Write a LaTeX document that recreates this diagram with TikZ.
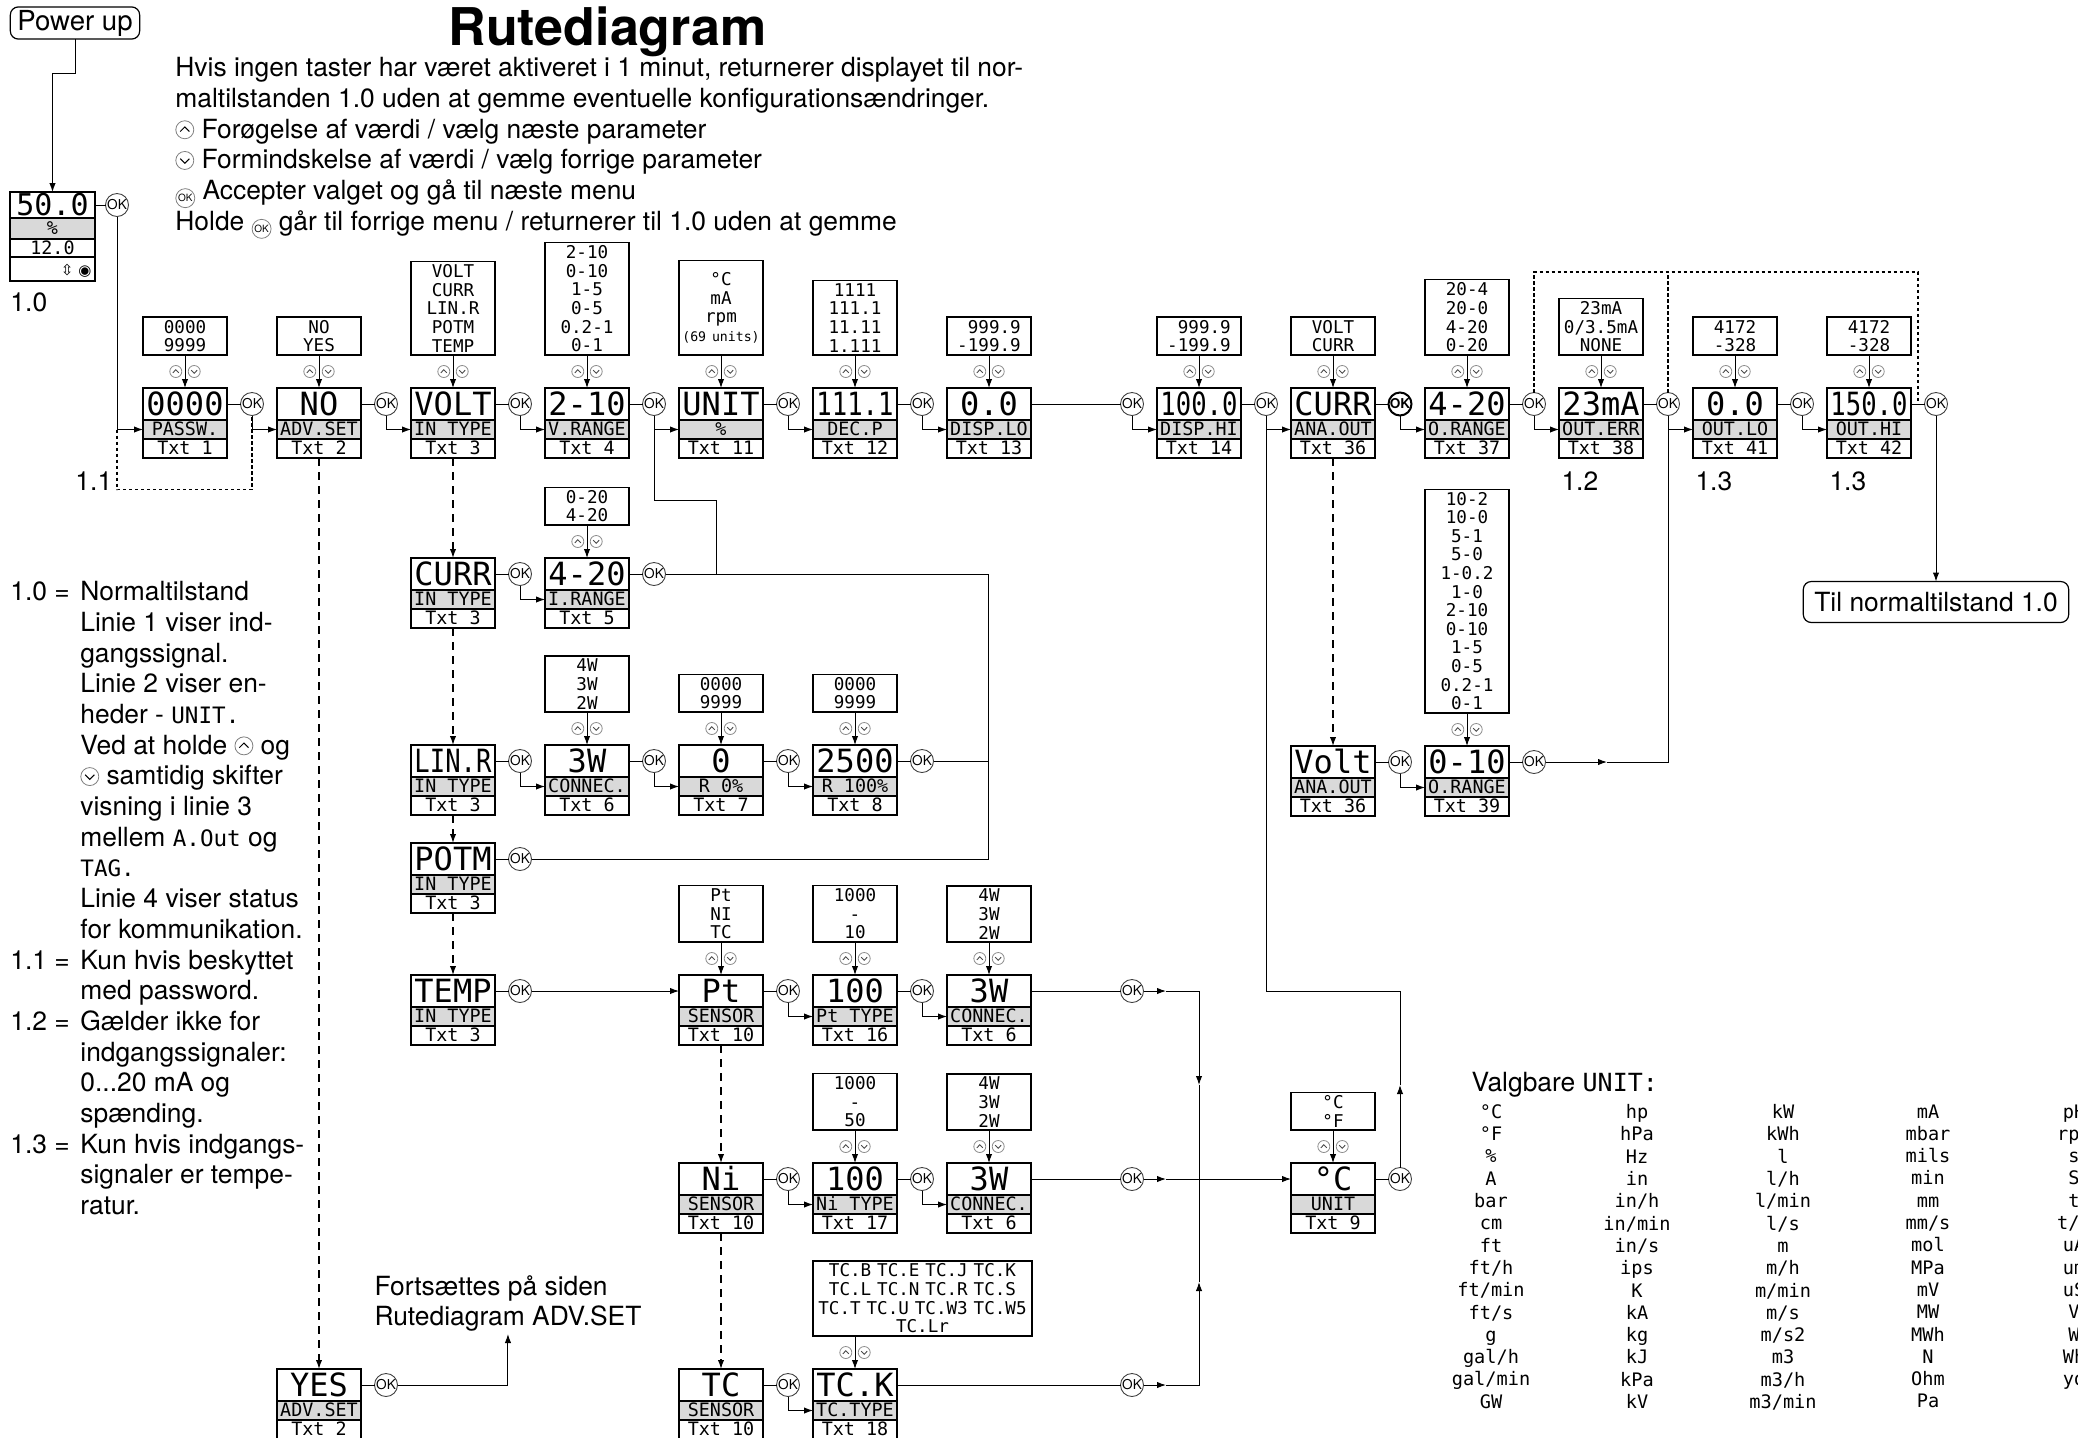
\documentclass[tikz,border=0pt]{standalone}
\usepackage{fontspec}
\setmainfont{TeX Gyre Heros}
\newfontfamily\dmono{DejaVu Sans Mono}
\newfontfamily\djsans{DejaVu Sans}
\usepackage{graphicx}
\usetikzlibrary{positioning, arrows.meta, calc}

\newcommand{\txtfont}{\fontsize{13.2}{15.35}\selectfont}
\newcommand{\bigdm}{\dmono\fontsize{16}{17}\selectfont}
\newcommand{\smdm}{\dmono\fontsize{9.2}{10}\selectfont}
\newcommand{\valdm}{\dmono\fontsize{8.8}{9.3}\selectfont}
\newcommand{\notedm}{\dmono\fontsize{11.3}{15.35}\selectfont}
\newcommand{\narr}[1]{\scalebox{0.8}[1]{#1}}

% taster i teksten
\newcommand{\kup}{\tikz[baseline=-0.6ex]{\draw[gray, line width=0.4pt] (0,0) circle (4.5pt); \draw[line width=0.5pt] (-2.3pt,-0.9pt) -- (0,1.4pt) -- (2.3pt,-0.9pt);}}
\newcommand{\kdn}{\tikz[baseline=-0.6ex]{\draw[gray, line width=0.4pt] (0,0) circle (4.5pt); \draw[line width=0.5pt] (-2.3pt,0.9pt) -- (0,-1.4pt) -- (2.3pt,0.9pt);}}
\newcommand{\kok}{\tikz[baseline=-0.6ex]{\node[circle, draw=gray, line width=0.4pt, inner sep=0pt, minimum size=9.5pt, font=\fontsize{5}{4}\selectfont] {OK};}}

% display: navn, placering, visning, menu, tekstnr.
\newcommand{\dispbox}[5]{%
  \node[dtop, #2] (#1) {#3};
  \node[dlab, below=0pt of #1] (#1-l) {#4};
  \node[dtxt, below=0pt of #1-l] (#1-t) {#5};
  \draw[sepl] (#1-t.north west) -- (#1-t.north east);
}
% valgmuligheder over et display
\newcommand{\valbox}[3][]{%
  \node[vals, above=16.5pt of #2, #1] (#2-v) {#3};
  \draw[arr] (#2-v.south -| #2.north) -- (#2);
  \pic at ($(#2-v.south -| #2.north)!.5!(#2.north)$) {updn};
}

\begin{document}
\begin{tikzpicture}[
    x=0.5pt, y=-0.5pt,
    line width=0.5pt,
    dtop/.style = {draw, fill=white, line width=0.6pt, outer sep=0pt, minimum width=42pt, minimum height=16pt,
                   inner sep=0pt, text height=11.6pt, text depth=0pt, font=\bigdm},
    dlab/.style = {draw, fill=gray!30, line width=0.6pt, outer sep=0pt, minimum width=42pt, minimum height=9.5pt,
                   inner sep=0pt, text height=6.4pt, text depth=0.4pt, font=\smdm},
    dtxt/.style = {dlab, fill=white},
    sepl/.style = {line width=1.1pt},
    vals/.style = {draw, fill=white, line width=0.6pt, outer sep=0pt, align=center, text width=40pt,
                   inner xsep=1pt, inner ysep=1.5pt, font=\valdm},
    ok/.style   = {circle, draw=black!75, line width=0.45pt, fill=white, outer sep=0pt, minimum size=11.5pt,
                   inner sep=0pt, font=\fontsize{6.8}{6}\selectfont},
    okb/.style  = {ok, draw=black, line width=1pt, font=\fontsize{6.8}{6}\selectfont\bfseries},
    arr/.style  = {-{Latex[length=4.5pt, width=3.2pt]}},
    dsh/.style  = {dash pattern=on 4pt off 3pt, line width=0.65pt},
    dots/.style = {dash pattern=on 1.6pt off 1.4pt, line width=0.8pt},
    rbox/.style = {draw, rounded corners=4pt, line width=0.6pt, outer sep=0pt, font=\txtfont},
    lbl/.style  = {inner sep=0pt, font=\txtfont},
    ucol/.style = {align=center, inner sep=0pt, font=\dmono\fontsize{9.3}{11.15}\selectfont},
    updn/.pic   = {
      \draw[black!45, line width=0.4pt] (-4.6pt,0) circle (3pt) (4.6pt,0) circle (3pt);
      \draw[black!70, line width=0.45pt] (-6.1pt,-0.7pt) -- (-4.6pt,0.9pt) -- (-3.1pt,-0.7pt)
            (3.1pt,0.7pt) -- (4.6pt,-0.9pt) -- (6.1pt,0.7pt);
    }
]
\useasboundingbox (0,0) rectangle (2078,1437);
\clip (0,0) rectangle (2078,1437);

% Overskrift og forklaring
\node[anchor=base west, inner sep=0pt, font=\fontsize{26}{30}\selectfont\bfseries] (ttl) at (448,45) {Rutediagram};
\node[anchor=north west, align=left, inner sep=0pt, font=\txtfont] (hdr) at (175,57) {%
Hvis ingen taster har været aktiveret i 1 minut, returnerer displayet til nor-\\
maltilstanden 1.0 uden at gemme eventuelle konfigurationsændringer.\\
\kup\ Forøgelse af værdi / vælg næste parameter\\
\kdn\ Formindskelse af værdi / vælg forrige parameter\\
\kok\ Accepter valget og gå til næste menu\\
Holde \kok\ går til forrige menu / returnerer til 1.0 uden at gemme};

% Opstart og normaltilstand
\node[rbox, inner xsep=3.5pt, inner ysep=1.5pt, font=\fontsize{13.8}{15}\selectfont] (pwr) at (75,23) {Power up};
\node[dtop, anchor=north west, minimum width=42.5pt, minimum height=13pt, text height=10.8pt,
      font=\dmono\fontsize{15}{16}\selectfont] (norm) at (10,192) {50.0};
\node[dlab, minimum width=42.5pt, minimum height=10.5pt, below=0pt of norm] (norm-l) {\%};
\node[dtxt, minimum width=42.5pt, minimum height=9pt, below=0pt of norm-l] (norm-m) {12.0};
\node[dtxt, minimum width=42.5pt, minimum height=12pt, text width=39pt, align=right,
      font=\djsans\fontsize{7.5}{8}\selectfont, below=0pt of norm-m] (norm-s) {⇳ ◉};
\draw[sepl] (norm-m.north west) -- (norm-m.north east);
\node[ok, right=5.25pt of norm] (norm-ok) {OK};
\node[lbl, anchor=west] (l10) at (10,302) {1.0};

% Raekke 1
\dispbox{passw}{anchor=north west, at={(143,388)}}{0000}{PASSW.}{Txt 1}
\dispbox{adv}{right=25pt of passw}{NO}{ADV.SET}{Txt 2}
\dispbox{volt}{right=25pt of adv}{VOLT}{IN TYPE}{Txt 3}
\dispbox{vrange}{right=25pt of volt}{2-10}{V.RANGE}{Txt 4}
\dispbox{unit}{right=25pt of vrange}{UNIT}{\%}{Txt 11}
\dispbox{decp}{right=25pt of unit}{\narr{111.1}}{DEC.P}{Txt 12}
\dispbox{dlo}{right=25pt of decp}{0.0}{DISP.LO}{Txt 13}
\dispbox{dhi}{right=63pt of dlo}{\narr{100.0}}{DISP.HI}{Txt 14}
\dispbox{ana}{right=25pt of dhi}{CURR}{ANA.OUT}{Txt 36}
\dispbox{orng}{right=25pt of ana}{4-20}{O.RANGE}{Txt 37}
\dispbox{oerr}{right=25pt of orng}{23mA}{OUT.ERR}{Txt 38}
\dispbox{olo}{right=25pt of oerr}{0.0}{OUT.LO}{Txt 41}
\dispbox{ohi}{right=25pt of olo}{\narr{150.0}}{OUT.HI}{Txt 42}

% Indgangstyper
\dispbox{curr}{anchor=north west, at={(411,558)}}{CURR}{IN TYPE}{Txt 3}
\dispbox{irange}{right=25pt of curr}{4-20}{I.RANGE}{Txt 5}
\dispbox{linr}{anchor=north west, at={(411,745)}}{\narr{LIN.R}}{IN TYPE}{Txt 3}
\dispbox{conn}{right=25pt of linr}{3W}{CONNEC.}{Txt 6}
\dispbox{rzero}{right=25pt of conn}{0}{R 0\%}{Txt 7}
\dispbox{rfull}{right=25pt of rzero}{2500}{R 100\%}{Txt 8}
\dispbox{potm}{anchor=north west, at={(411,843)}}{POTM}{IN TYPE}{Txt 3}
\dispbox{temp}{anchor=north west, at={(411,975)}}{TEMP}{IN TYPE}{Txt 3}
\dispbox{pt}{anchor=north west, at={(679,975)}}{Pt}{SENSOR}{Txt 10}
\dispbox{pttype}{right=25pt of pt}{100}{Pt TYPE}{Txt 16}
\dispbox{conna}{right=25pt of pttype}{3W}{CONNEC.}{Txt 6}
\dispbox{ni}{anchor=north west, at={(679,1163)}}{Ni}{SENSOR}{Txt 10}
\dispbox{nitype}{right=25pt of ni}{100}{Ni TYPE}{Txt 17}
\dispbox{connb}{right=25pt of nitype}{3W}{CONNEC.}{Txt 6}
\dispbox{tc}{anchor=north west, at={(679,1369)}}{TC}{SENSOR}{Txt 10}
\dispbox{tctype}{right=25pt of tc}{TC.K}{TC.TYPE}{Txt 18}
\dispbox{yes}{anchor=north west, at={(277,1369)}}{YES}{ADV.SET}{Txt 2}

% Analog udgang
\dispbox{volto}{anchor=north west, at={(1291,746)}}{Volt}{ANA.OUT}{Txt 36}
\dispbox{orngb}{right=25pt of volto}{0-10}{O.RANGE}{Txt 39}
\dispbox{degc}{anchor=north west, at={(1291,1163)}}{°C}{UNIT}{Txt 9}

% OK-taster
\foreach \n in {passw, adv, volt, vrange, unit, decp, dhi, orng, oerr, olo, ohi,
                curr, irange, linr, conn, rzero, rfull, potm, temp, pt, pttype,
                ni, nitype, tc, yes, volto, orngb, degc}
  \node[ok, right=6.75pt of \n] (\n-ok) {OK};
\node[okb, right=6.75pt of ana] (ana-ok) {OK};
\node[ok, left=6.75pt of dhi] (hi-ok) {OK};
\node[ok] (conna-ok) at (hi-ok |- conna) {OK};
\node[ok] (connb-ok) at (hi-ok |- connb) {OK};
\node[ok] (tctype-ok) at (hi-ok |- tctype) {OK};

% Valgmuligheder
\valbox{passw}{0000\\9999}
\valbox{adv}{NO\\YES}
\valbox{volt}{VOLT\\CURR\\LIN.R\\POTM\\TEMP}
\valbox{vrange}{2-10\\0-10\\1-5\\0-5\\0.2-1\\0-1}
\valbox[inner ysep=6pt]{unit}{°C\\mA\\rpm\\{\fontsize{6.6}{9.3}\selectfont(69 units)}}
\valbox{decp}{1111\\111.1\\11.11\\1.111}
\valbox{dlo}{\phantom{-}999.9\\-199.9}
\valbox{dhi}{\phantom{-}999.9\\-199.9}
\valbox{ana}{VOLT\\CURR}
\valbox{orng}{20-4\\20-0\\4-20\\0-20}
\valbox{oerr}{23mA\\0/3.5mA\\NONE}
\valbox{olo}{4172\\-328}
\valbox{ohi}{4172\\-328}
\valbox{irange}{0-20\\4-20}
\valbox{conn}{4W\\3W\\2W}
\valbox{rzero}{0000\\9999}
\valbox{rfull}{0000\\9999}
\valbox{pt}{Pt\\NI\\TC}
\valbox{pttype}{1000\\-\\10}
\valbox{conna}{4W\\3W\\2W}
\valbox{nitype}{1000\\-\\50}
\valbox{connb}{4W\\3W\\2W}
\valbox[above=16.5pt of tctype.north west, anchor=south west, text width=108.5pt, inner xsep=0.5pt]{tctype}{TC.B TC.E TC.J TC.K\\TC.L TC.N TC.R TC.S\\TC.T TC.U TC.W3 TC.W5\\TC.Lr}
\valbox{orngb}{10-2\\10-0\\5-1\\5-0\\1-0.2\\1-0\\2-10\\0-10\\1-5\\0-5\\0.2-1\\0-1}
\valbox{degc}{°C\\°F}

% Forbindelser raekke 1
\draw[arr] (pwr.south) -- ++(0,34) -| (norm.north);
\draw (norm) -- (norm-ok);
\draw[arr] (norm-ok) |- (passw-l);
\draw[dots] (norm-ok |- passw-l) -- ++(0,60) -| (passw-ok);
\foreach \ma/\mb in {passw/adv, adv/volt, volt/vrange, vrange/unit, unit/decp, decp/dlo,
                     dhi/ana, ana/orng, orng/oerr, oerr/olo, olo/ohi,
                     curr/irange, linr/conn, conn/rzero, rzero/rfull,
                     pt/pttype, pttype/conna, ni/nitype, nitype/connb, tc/tctype, volto/orngb}
  {\draw (\ma) -- (\ma-ok); \draw[arr] (\ma-ok) |- (\mb-l);}
\draw (dlo) -- (hi-ok);
\draw[arr] (hi-ok) |- (dhi-l);

% Tilbage til normaltilstand
\draw (ohi) -- (ohi-ok);
\node[rbox, inner xsep=5.5pt, minimum height=20.5pt, below=83pt of ohi-ok] (back) {Til normaltilstand 1.0};
\draw[arr] (ohi-ok) -- (back);

% Spring over (1.2 og 1.3)
\coordinate (dtop) at (0,272);
\coordinate (dend) at ($(ohi.east)!.5!(ohi-ok.west)$);
\draw[dots] (orng-ok) -- (orng-ok |- dtop) -| (dend);
\draw[dots] (oerr-ok) -- (oerr-ok |- dtop);

% Lodrette valg
\foreach \ma/\mb in {volt/curr, curr/linr, linr/potm, potm/temp, adv/yes, pt/ni, ni/tc, ana/volto}
  \draw[dsh, arr] (\ma-t) -- (\mb);

% Tilbage til UNIT
\coordinate (ja) at (716,500);
\coordinate (jr) at (988,0);
\draw (vrange-ok) |- (ja) -- (ja |- irange-ok);
\draw (irange) -- (irange-ok);
\draw (irange-ok) -- (irange-ok -| jr) -- (jr |- potm-ok) -- (potm-ok);
\draw (rfull) -- (rfull-ok) -- (rfull-ok -| jr);
\draw (potm) -- (potm-ok);

% Temperatur
\coordinate (ma) at (1166,0);
\coordinate (jt) at (1199,0);
\draw (temp) -- (temp-ok);
\draw[arr] (temp-ok) -- (pt);
\draw (conna) -- (conna-ok);
\draw[arr] (conna-ok) -- (conna-ok -| ma);
\draw[arr] (conna-ok -| ma) -| ($(jt |- conna-ok)!.5!(jt |- connb-ok)$);
\draw ($(jt |- conna-ok)!.5!(jt |- connb-ok)$) -- (jt |- connb-ok);
\draw (tctype) -- (tctype-ok);
\draw[arr] (tctype-ok) -- (tctype-ok -| ma);
\draw[arr] (tctype-ok -| ma) -| ($(jt |- connb-ok)!.5!(jt |- tctype-ok)$);
\draw ($(jt |- connb-ok)!.5!(jt |- tctype-ok)$) -- (jt |- connb-ok);
\draw (connb) -- (connb-ok);
\draw[arr] (connb-ok) -- (connb-ok -| ma);
\draw[arr] (connb-ok -| ma) -- (degc);
\draw (degc) -- (degc-ok);
\draw[arr] (degc-ok) -- ($(degc-ok)!.5!(degc-ok |- temp)$);
\draw ($(degc-ok)!.5!(degc-ok |- temp)$) -- (degc-ok |- temp) -| (dhi-ok);

% Udgang volt
\coordinate (mb) at (1607,0);
\draw (orngb) -- (orngb-ok);
\draw[arr] (orngb-ok) -- (orngb-ok -| mb);
\draw (orngb-ok -| mb) -| (oerr-ok);

% ADV.SET
\node[anchor=south west, align=left, inner sep=1pt, font=\txtfont] (cont) at (372,1334) {Fortsættes på siden\\Rutediagram ADV.SET};
\draw (yes) -- (yes-ok);
\draw[arr] (yes-ok) -| (cont.south);

% Noter
\node[lbl, anchor=west] (l11) at (75,481) {1.1};
\node[lbl, anchor=west] (l12) at ($(oerr-t.south west)+(2,23)$) {1.2};
\node[lbl, anchor=west] (l13a) at ($(olo-t.south west)+(2,23)$) {1.3};
\node[lbl, anchor=west] (l13b) at ($(ohi-t.south west)+(2,23)$) {1.3};
\node[anchor=north west, align=left, inner sep=0pt, font=\txtfont] (notes) at (10,581) {%
\makebox[35pt][l]{1.0 =}Normaltilstand\\
\hspace*{35pt}Linie 1 viser ind-\\
\hspace*{35pt}gangssignal.\\
\hspace*{35pt}Linie 2 viser en-\\
\hspace*{35pt}heder - {\notedm UNIT.}\\
\hspace*{35pt}Ved at holde \kup\ og\\
\hspace*{35pt}\kdn\ samtidig skifter\\
\hspace*{35pt}visning i linie 3\\
\hspace*{35pt}mellem {\notedm A.Out} og\\
\hspace*{35pt}{\notedm TAG.}\\
\hspace*{35pt}Linie 4 viser status\\
\hspace*{35pt}for kommunikation.\\
\makebox[35pt][l]{1.1 =}Kun hvis beskyttet\\
\hspace*{35pt}med password.\\
\makebox[35pt][l]{1.2 =}Gælder ikke for\\
\hspace*{35pt}indgangssignaler:\\
\hspace*{35pt}0...20 mA og\\
\hspace*{35pt}spænding.\\
\makebox[35pt][l]{1.3 =}Kun hvis indgangs-\\
\hspace*{35pt}signaler er tempe-\\
\hspace*{35pt}ratur.};

% Valgbare enheder
\node[anchor=base west, inner sep=0pt, font=\txtfont] (vu) at (1471,1091) {Valgbare {\dmono\fontsize{12.5}{12}\selectfont UNIT:}};
\node[ucol, anchor=north] (uc1) at (1491,1104) {°C\\°F\\\%\\A\\bar\\cm\\ft\\ft/h\\ft/min\\ft/s\\g\\gal/h\\gal/min\\GW};
\node[ucol, anchor=north] (uc2) at (1637,1104) {hp\\hPa\\Hz\\in\\in/h\\in/min\\in/s\\ips\\K\\kA\\kg\\kJ\\kPa\\kV};
\node[ucol, anchor=north] (uc3) at (1783,1104) {kW\\kWh\\l\\l/h\\l/min\\l/s\\m\\m/h\\m/min\\m/s\\m/s2\\m3\\m3/h\\m3/min};
\node[ucol, anchor=north] (uc4) at (1928,1104) {mA\\mbar\\mils\\min\\mm\\mm/s\\mol\\MPa\\mV\\MW\\MWh\\N\\Ohm\\Pa};
\node[ucol, anchor=north] (uc5) at (2074,1104) {pH\\rpm\\s\\S\\t\\t/h\\uA\\um\\uS\\V\\W\\Wh\\yd};

\end{tikzpicture}
\end{document}
